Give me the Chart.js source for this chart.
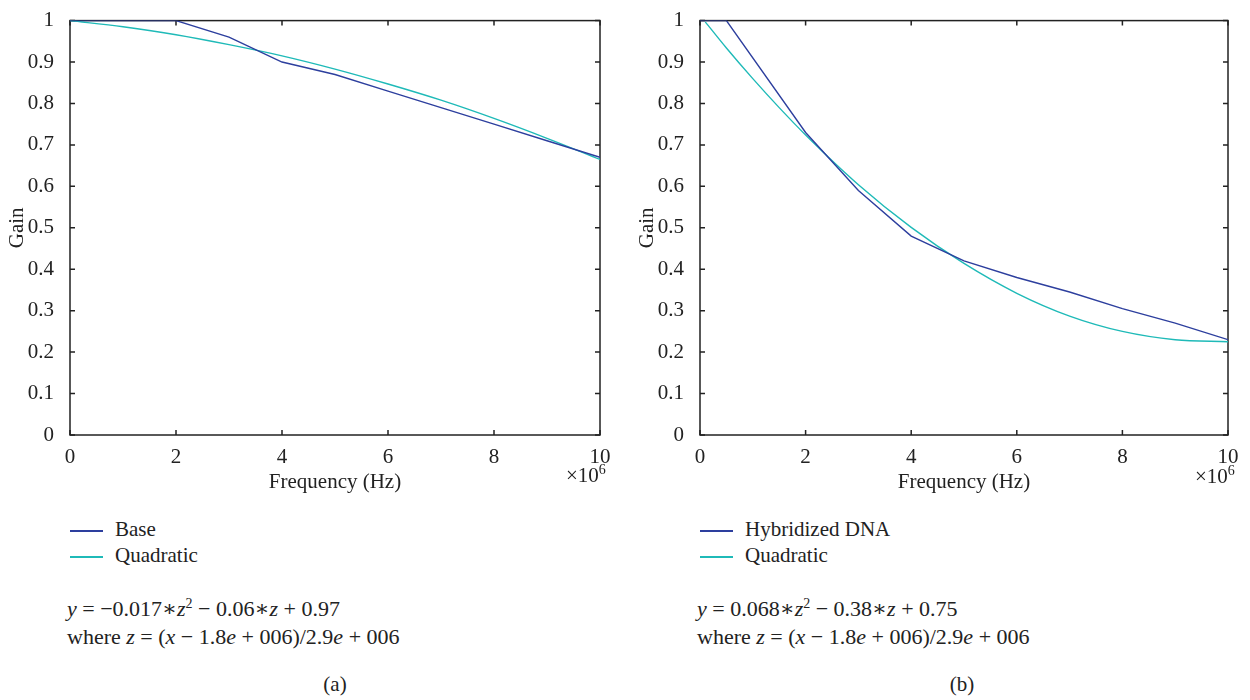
<!DOCTYPE html>
<html lang="en">
<head>
    <meta charset="UTF-8">
    <title>Gain vs Frequency</title>
    <script src="https://cdn.jsdelivr.net/npm/chart.js"></script>
    <style>
        body {
            margin: 0;
            background: #fff;
            font-family: "Liberation Serif", "DejaVu Serif", serif;
            color: #222;
        }
        #wrap { position: relative; width: 1250px; height: 700px; }
        .c { position: absolute; top: 0; height: 500px; }
        .abs { position: absolute; font-size: 21px; white-space: nowrap; }
        .legend div { height: 26px; line-height: 26px; }
        .legend span.sw { display: inline-block; width: 33px; height: 1.6px; vertical-align: middle; margin-right: 12px; }
        .eq { line-height: 28px; font-size: 22px; }
        .eq i { font-style: italic; }
        sup { font-size: 14px; }
    </style>
</head>
<body>
<div id="wrap">
    <div class="c" style="left:0;width:625px"><canvas id="chartA"></canvas></div>
    <div class="c" style="left:630px;width:620px"><canvas id="chartB"></canvas></div>

    <div class="abs" style="left:566px;top:462px">×10<sup>6</sup></div>
    <div class="abs" style="left:1195px;top:463px">×10<sup>6</sup></div>

    <div class="abs legend" id="legA" style="left:70px;top:516px"></div>
    <div class="abs legend" id="legB" style="left:700px;top:516px"></div>

    <div class="abs eq" style="left:67px;top:590px">
        <i>y</i> = −0.017∗<i>z</i><sup>2</sup> − 0.06∗<i>z</i> + 0.97<br>
        where <i>z</i> = (<i>x</i> − 1.8<i>e</i> + 006)/2.9<i>e</i> + 006
    </div>
    <div class="abs eq" style="left:697px;top:590px">
        <i>y</i> = 0.068∗<i>z</i><sup>2</sup> − 0.38∗<i>z</i> + 0.75<br>
        where <i>z</i> = (<i>x</i> − 1.8<i>e</i> + 006)/2.9<i>e</i> + 006
    </div>

    <div class="abs" style="left:300px;width:70px;text-align:center;top:672px">(a)</div>
    <div class="abs" style="left:927px;width:70px;text-align:center;top:672px">(b)</div>
</div>

<script>
    // frequency in units of 1e6 Hz
    const baseX = [0, 1, 2, 3, 4, 5, 6, 7, 8, 9, 10];
    const baseGain = [1, 1, 1, 0.96, 0.90, 0.87, 0.83, 0.79, 0.75, 0.71, 0.67];
    const quadAX = [0, 1, 2, 3, 4, 5, 6, 7, 8, 9, 10];
    const quadAGain = [1.0, 0.985, 0.966, 0.942, 0.915, 0.883, 0.847, 0.808, 0.764, 0.716, 0.665];

    const dnaX = [0, 0.5, 2, 3, 4, 5, 6, 7, 8, 9, 10];
    const dnaGain = [1, 1, 0.73, 0.59, 0.48, 0.42, 0.38, 0.345, 0.305, 0.27, 0.23];
    const quadBX = [0.1, 0.5, 1, 1.5, 2, 3, 4, 5, 6, 7, 8, 9, 10];
    const quadBGain = [0.997, 0.934, 0.86, 0.79, 0.724, 0.604, 0.501, 0.414, 0.342, 0.287, 0.25, 0.23, 0.225];

    const BLUE = '#2d3f9e';
    const CYAN = '#1fbab8';
    const FONT = '"Liberation Serif", "DejaVu Serif", serif';

    const pts = (xs, ys) => xs.map((x, i) => ({ x: x, y: ys[i] }));

    // box round the plot with inward ticks on all four sides
    const boxPlugin = {
        id: 'box',
        beforeDatasetsDraw(chart) {
            const { ctx, chartArea: a, scales: { x, y } } = chart;
            ctx.save();
            ctx.strokeStyle = '#222';
            ctx.lineWidth = 1.5;
            ctx.strokeRect(a.left, a.top, a.width, a.height);
            ctx.beginPath();
            x.ticks.forEach(t => {
                const px = x.getPixelForValue(t.value);
                ctx.moveTo(px, a.bottom); ctx.lineTo(px, a.bottom - 5);
                ctx.moveTo(px, a.top); ctx.lineTo(px, a.top + 5);
            });
            y.ticks.forEach(t => {
                const py = y.getPixelForValue(t.value);
                ctx.moveTo(a.left, py); ctx.lineTo(a.left + 5, py);
                ctx.moveTo(a.right, py); ctx.lineTo(a.right - 5, py);
            });
            ctx.stroke();
            ctx.restore();
        }
    };

    function makeChart(id, sets, pad) {
        return new Chart(document.getElementById(id), {
            type: 'line',
            data: {
                datasets: sets.map(s => ({
                    label: s.label,
                    data: s.data,
                    borderColor: s.color,
                    backgroundColor: s.color,
                    borderWidth: 1.4,
                    pointRadius: 0,
                    fill: false,
                    tension: 0,
                    cubicInterpolationMode: s.smooth ? 'monotone' : 'default'
                }))
            },
            options: {
                responsive: true,
                maintainAspectRatio: false,
                animation: false,
                layout: { padding: pad },
                plugins: { legend: { display: false }, tooltip: { enabled: false } },
                scales: {
                    x: {
                        type: 'linear', min: 0, max: 10,
                        afterFit: s => { s.height = 65; },
                        grid: { display: false },
                        border: { display: false },
                        ticks: { stepSize: 2, padding: 2, color: '#222', font: { family: FONT, size: 21 } },
                        title: { display: true, text: 'Frequency (Hz)', color: '#222', padding: { bottom: 5 }, font: { family: FONT, size: 21 } }
                    },
                    y: {
                        min: 0, max: 1,
                        afterFit: s => { s.width = 70; },
                        grid: { display: false },
                        border: { display: false },
                        ticks: {
                            stepSize: 0.1, padding: 8, color: '#222', font: { family: FONT, size: 21 },
                            callback: v => String(Math.round(v * 10) / 10)
                        },
                        title: { display: true, text: 'Gain', color: '#222', padding: { top: 5 }, font: { family: FONT, size: 21 } }
                    }
                }
            },
            plugins: [boxPlugin]
        });
    }

    function makeLegend(chart, elId) {
        const el = document.getElementById(elId);
        chart.data.datasets.forEach(d => {
            const row = document.createElement('div');
            row.innerHTML = '<span class="sw" style="background:' + d.borderColor + '"></span>' + d.label;
            el.appendChild(row);
        });
    }

    const chartA = makeChart('chartA', [
        { label: 'Base', data: pts(baseX, baseGain), color: BLUE },
        { label: 'Quadratic', data: pts(quadAX, quadAGain), color: CYAN, smooth: true }
    ], { top: 15, right: 25, left: 0, bottom: 0 });

    const chartB = makeChart('chartB', [
        { label: 'Hybridized DNA', data: pts(dnaX, dnaGain), color: BLUE },
        { label: 'Quadratic', data: pts(quadBX, quadBGain), color: CYAN, smooth: true }
    ], { top: 17, right: 22, left: 0, bottom: 0 });

    makeLegend(chartA, 'legA');
    makeLegend(chartB, 'legB');
</script>
</body>
</html>
